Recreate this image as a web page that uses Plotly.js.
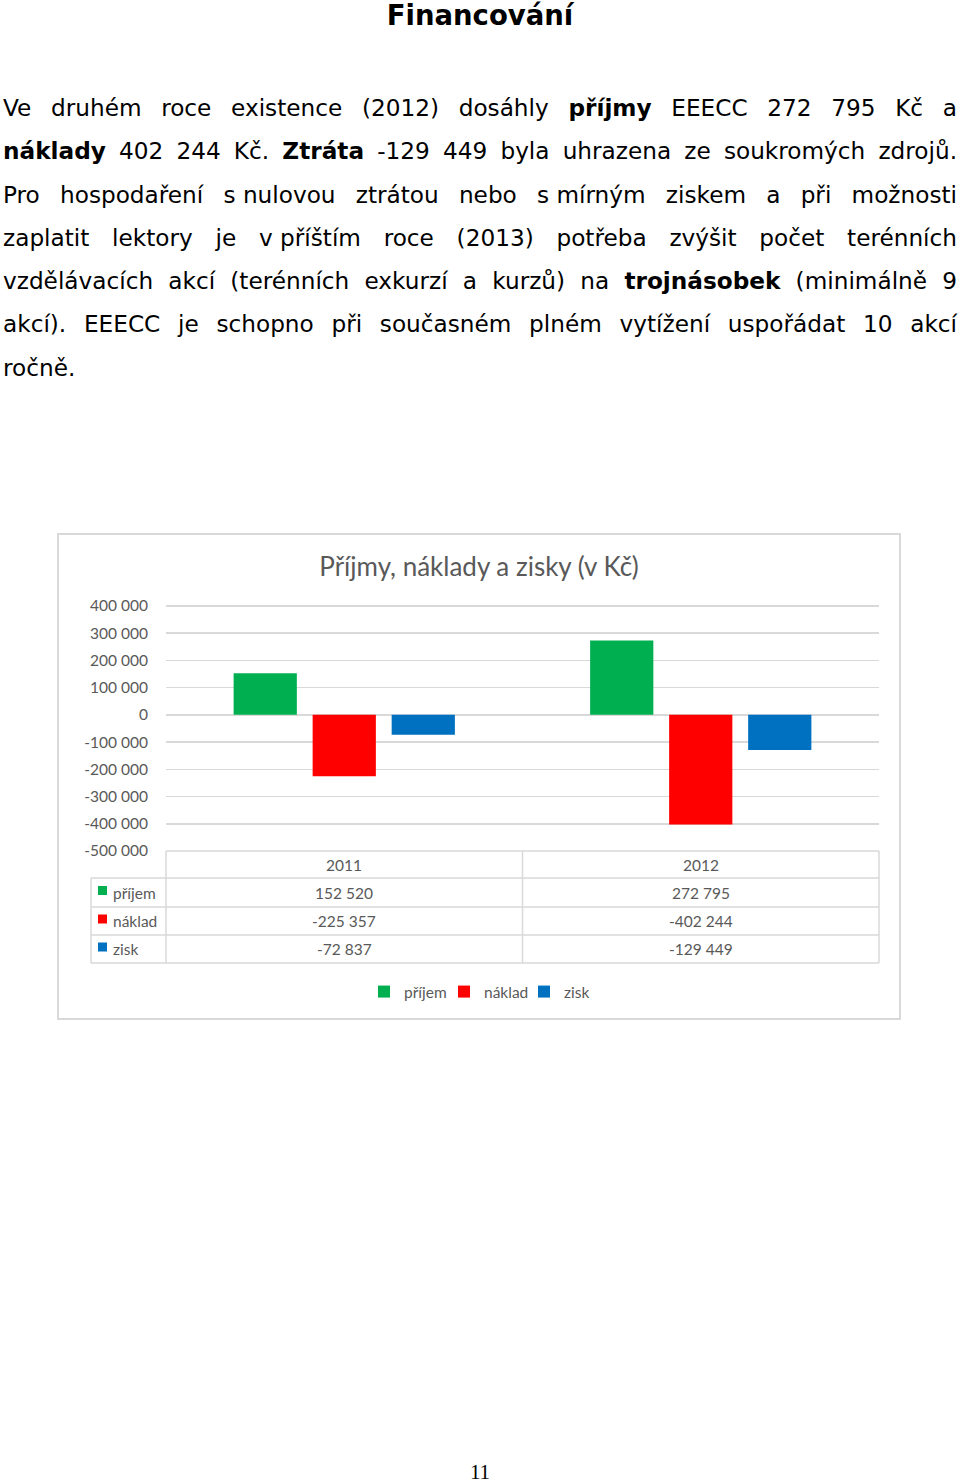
<!DOCTYPE html>
<html>
<head>
<meta charset="utf-8">
<script src="https://cdn.plot.ly/plotly-3.0.1.min.js"></script>
<style>
  body { margin: 0; background: #fff; }
  #page { position: relative; width: 960px; height: 1482px; font-family: "DejaVu Sans", Verdana, sans-serif; color: #000; }
  h1 { position: absolute; left: 0; top: 0; width: 960px; margin: 0; text-align: center; font-size: 27.5px; line-height: 30px; font-weight: bold; }
  #text { position: absolute; left: 3px; top: 86px; width: 954px; font-size: 23.2px; line-height: 43.3px; }
  #text div { white-space: nowrap; text-align: justify; text-align-last: justify; }
  #text div.last { text-align-last: left; }
  .nb { display: inline-block; }
  #dashboard { position: absolute; left: 58px; top: 534px; width: 842px; height: 485px; outline: 2px solid #d9d9d9; outline-offset: -1px; }
  #pagenum { position: absolute; left: 0; width: 960px; top: 1460px; text-align: center; font-family: "Liberation Serif", serif; font-size: 21px; }
</style>
</head>
<body>
<div id="page">
  <h1>Financování</h1>
  <div id="text">
    <div>Ve druhém roce existence (2012) dosáhly <b>příjmy</b> EEECC 272 795 Kč a</div>
    <div><b>náklady</b> 402 244 Kč. <b>Ztráta</b> -129 449 byla uhrazena ze soukromých zdrojů.</div>
    <div>Pro hospodaření <span class="nb">s&nbsp;nulovou</span> ztrátou nebo <span class="nb">s&nbsp;mírným</span> ziskem a při možnosti</div>
    <div>zaplatit lektory je <span class="nb">v&nbsp;příštím</span> roce (2013) potřeba zvýšit počet terénních</div>
    <div>vzdělávacích akcí (terénních exkurzí a kurzů) na <b>trojnásobek</b> (minimálně 9</div>
    <div>akcí). EEECC je schopno při současném plném vytížení uspořádat 10 akcí</div>
    <div class="last">ročně.</div>
  </div>
  <div id="dashboard"></div>
  <div id="pagenum">11</div>
</div>
<script>
const categories = ['2011', '2012'];
const seriesNames = ['příjem', 'náklad', 'zisk'];
const prijem = [152520, 272795];
const naklad = [-225357, -402244];
const zisk = [-72837, -129449];
const tickValues = [400000, 300000, 200000, 100000, 0, -100000, -200000, -300000, -400000, -500000];
const tickLabels = ['400 000', '300 000', '200 000', '100 000', '0', '-100 000', '-200 000', '-300 000', '-400 000', '-500 000'];

const colors = ['#00b050', '#ff0000', '#0070c0'];
const grey = '#595959';
const lineGrey = '#d9d9d9';
const chartFont = 'Lato, "Open Sans", sans-serif';

// number formatting like Excel with a space as thousands separator
const fmt = n => (n < 0 ? '-' : '') + Math.abs(n).toString().replace(/\B(?=(\d{3})+(?!\d))/g, ' ');

// figure geometry (px inside the plot div)
const FIG_W = 842, FIG_H = 485;
const M = { l: 108, r: 21, t: 70, b: 168, autoexpand: false };
const PW = FIG_W - M.l - M.r, PH = FIG_H - M.t - M.b;
// pixel offsets relative to the plot area -> paper coords
const px = dx => dx / PW;              // dx from plot left edge
const py = dy => -dy / PH;             // dy below plot bottom edge

const values = [prijem, naklad, zisk];
const traces = seriesNames.map((name, i) => ({
  type: 'bar',
  name: name,
  x: categories,
  y: values[i],
  marker: { color: colors[i] },
  hoverinfo: 'skip'
}));

// data table under the plot
const rowTop = [0, 27, 56, 84];      // header, row1, row2, row3 tops (px below plot bottom)
const rowBottom = 112;
const labelColLeft = -75;            // left column starts 75px left of the plot
const shapes = [];
const annotations = [];
const hline = (x0, x1, dy) => shapes.push({ type: 'line', xref: 'paper', yref: 'paper', x0: px(x0), x1: px(x1), y0: py(dy), y1: py(dy), line: { color: lineGrey, width: 1.5 } });
const vline = (x, dy0, dy1) => shapes.push({ type: 'line', xref: 'paper', yref: 'paper', x0: px(x), x1: px(x), y0: py(dy0), y1: py(dy1), line: { color: lineGrey, width: 1.5 } });

hline(0, PW, rowTop[0]);
for (let r = 1; r < rowTop.length; r++) hline(labelColLeft, PW, rowTop[r]);
hline(labelColLeft, PW, rowBottom);
vline(labelColLeft, rowTop[1], rowBottom);
vline(0, rowTop[0], rowBottom);
vline(PW / 2, rowTop[0], rowBottom);
vline(PW, rowTop[0], rowBottom);

const mid = r => (rowTop[r] + (r + 1 < rowTop.length ? rowTop[r + 1] : rowBottom)) / 2;

categories.forEach((c, ci) => {
  annotations.push({ xref: 'x', yref: 'paper', x: ci, y: py(mid(0)), text: c, showarrow: false, yanchor: 'middle', font: { size: 15.5, color: grey, family: chartFont } });
  values.forEach((vals, si) => {
    annotations.push({ xref: 'x', yref: 'paper', x: ci, y: py(mid(si + 1)), text: fmt(vals[ci]), showarrow: false, yanchor: 'middle', font: { size: 15.5, color: grey, family: chartFont } });
  });
});
seriesNames.forEach((name, si) => {
  const cy = mid(si + 1);
  shapes.push({ type: 'rect', xref: 'paper', yref: 'paper', x0: px(-68), x1: px(-59), y0: py(cy - 6.5), y1: py(cy + 2.5), fillcolor: colors[si], line: { width: 0 } });
  annotations.push({ xref: 'paper', yref: 'paper', x: px(-55), y: py(cy), xanchor: 'left', yanchor: 'middle', text: name, showarrow: false, font: { size: 15.5, color: grey, family: chartFont } });
});

const layout = {
  width: FIG_W,
  height: FIG_H,
  margin: M,
  paper_bgcolor: 'rgba(0,0,0,0)',
  plot_bgcolor: 'rgba(0,0,0,0)',
  font: { family: chartFont, color: grey, size: 15.5 },
  title: { text: 'Příjmy, náklady a zisky (v Kč)', font: { size: 26, color: grey, family: chartFont }, xref: 'container', x: 0.5, y: 1 - 33 / FIG_H, yanchor: 'middle' },
  barmode: 'group',
  bargap: 0.335,
  bargroupgap: 0.2,
  xaxis: { type: 'category', range: [-0.5, 1.5], showticklabels: false, showgrid: false, zeroline: false, showline: false, fixedrange: true },
  yaxis: {
    range: [-500000, 407000],
    tickvals: tickValues,
    ticktext: tickLabels,
    showgrid: true,
    gridcolor: lineGrey,
    gridwidth: 1.5,
    zeroline: false,
    showline: false,
    ticks: '',
    ticklabelstandoff: 17,
    tickfont: { size: 15.5, color: grey },
    fixedrange: true
  },
  showlegend: true,
  legend: { orientation: 'h', x: px(484 - 166), xanchor: 'center', y: py(141), yanchor: 'middle', font: { size: 15.5, color: grey }, itemwidth: 30, entrywidth: 35, traceorder: 'normal' },
  shapes: shapes,
  annotations: annotations
};

Plotly.newPlot('dashboard', traces, layout, { displayModeBar: false, staticPlot: true });
</script>
</body>
</html>
